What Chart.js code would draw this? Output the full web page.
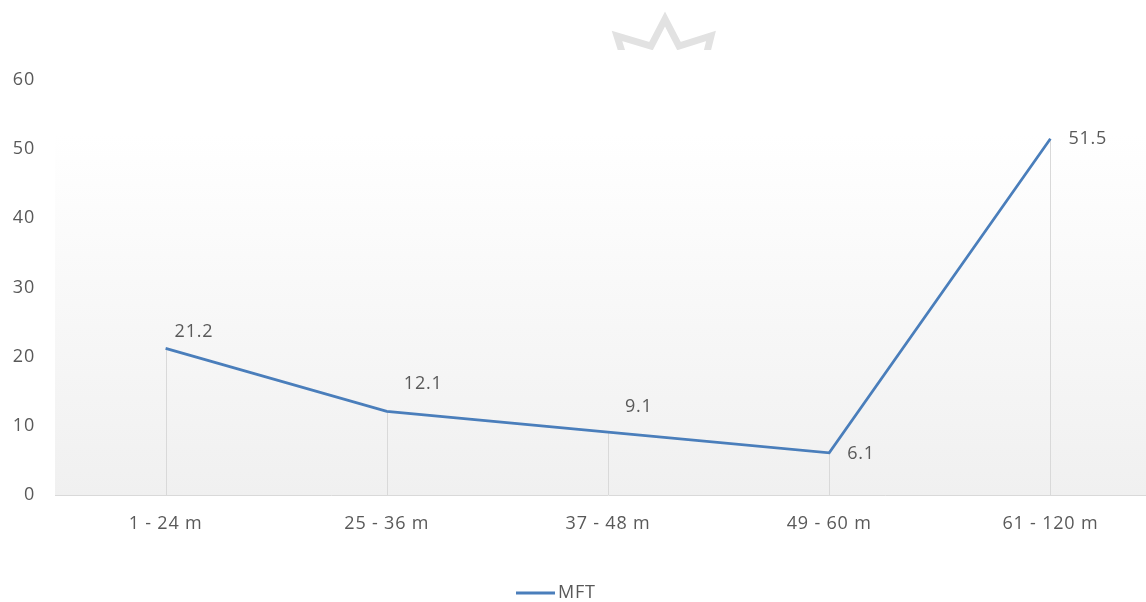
<!DOCTYPE html>
<html lang="en">
<head>
    <meta charset="UTF-8">
    <title>MFT</title>
    <script src="https://cdn.jsdelivr.net/npm/chart.js"></script>
    <style>
        html, body {
            margin: 0;
            padding: 0;
            background: #ffffff;
            overflow: hidden;
        }
        .chart-container {
            position: relative;
            width: 1161px;
            height: 602px;
        }
    </style>
</head>
<body>
    <div class="chart-container">
        <canvas id="mftChart"></canvas>
    </div>

    <script>
        const categories = ['1 - 24 m', '25 - 36 m', '37 - 48 m', '49 - 60 m', '61 - 120 m'];
        const mftValues = [21.2, 12.1, 9.1, 6.1, 51.5];
        const yTicks = [0, 10, 20, 30, 40, 50, 60];

        const textColor = '#595959';
        const lineColor = '#4a7ebb';
        const fontFamily = "'Open Sans', sans-serif";
        const fontSize = 18;

        // label offsets relative to each point (dx, dy)
        const labelOffsets = [[9, -16], [17, -27], [17, -25], [18, 1], [18, 0]];

        const decorPlugin = {
            id: 'decor',
            beforeDraw(chart) {
                const ctx = chart.ctx;
                const area = chart.chartArea;
                // wider tracking for every text drawn afterwards
                ctx.letterSpacing = '0.8px';
                ctx.save();
                // soft grey fade behind the plot
                const g = ctx.createLinearGradient(0, 135, 0, area.bottom);
                g.addColorStop(0, '#ffffff');
                g.addColorStop(1, '#f0f0f0');
                ctx.fillStyle = g;
                ctx.fillRect(area.left, 135, area.right - area.left, area.bottom - 135);

                // crown mark at the top
                ctx.strokeStyle = '#e2e2e2';
                ctx.lineWidth = 7;
                ctx.lineJoin = 'miter';
                ctx.beginPath();
                ctx.moveTo(622, 52);
                ctx.lineTo(617, 36);
                ctx.lineTo(651, 46);
                ctx.lineTo(665, 19);
                ctx.lineTo(679, 46);
                ctx.lineTo(711, 36);
                ctx.lineTo(707, 52);
                ctx.stroke();
                ctx.clearRect(600, 50, 130, 12);
                ctx.restore();
            },
            beforeDatasetsDraw(chart) {
                const ctx = chart.ctx;
                const meta = chart.getDatasetMeta(0);
                const base = chart.scales.y.getPixelForValue(0);
                ctx.save();
                ctx.strokeStyle = '#d9d9d9';
                ctx.lineWidth = 1;
                meta.data.forEach(pt => {
                    const x = Math.round(pt.x) + 0.5;
                    ctx.beginPath();
                    ctx.moveTo(x, pt.y);
                    ctx.lineTo(x, base);
                    ctx.stroke();
                });
                ctx.restore();
            },
            afterDraw(chart) {
                const ctx = chart.ctx;
                const meta = chart.getDatasetMeta(0);
                ctx.save();
                ctx.font = fontSize + 'px ' + fontFamily;
                ctx.fillStyle = textColor;
                ctx.textBaseline = 'middle';
                ctx.textAlign = 'left';
                meta.data.forEach((pt, i) => {
                    const off = labelOffsets[i];
                    ctx.fillText(String(mftValues[i]), pt.x + off[0], pt.y + off[1]);
                });

                // legend
                ctx.strokeStyle = lineColor;
                ctx.lineWidth = 3;
                ctx.beginPath();
                ctx.moveTo(516, 593);
                ctx.lineTo(555, 593);
                ctx.stroke();
                ctx.fillText('MFT', 558, 593);
                ctx.restore();
            }
        };

        new Chart(document.getElementById('mftChart'), {
            type: 'line',
            data: {
                labels: categories,
                datasets: [{
                    label: 'MFT',
                    data: mftValues,
                    borderColor: lineColor,
                    borderWidth: 2.75,
                    pointRadius: 0,
                    tension: 0,
                    fill: false
                }]
            },
            options: {
                responsive: true,
                maintainAspectRatio: false,
                animation: false,
                layout: {
                    padding: { top: 80, right: 0, bottom: 0, left: 0 }
                },
                plugins: {
                    legend: { display: false },
                    tooltip: { enabled: false }
                },
                scales: {
                    x: {
                        offset: true,
                        grid: { display: false, drawTicks: false },
                        border: { display: true, color: '#d9d9d9', width: 1 },
                        ticks: {
                            color: textColor,
                            padding: 18,
                            maxRotation: 0,
                            font: { family: fontFamily, size: fontSize }
                        },
                        afterFit: s => { s.height = 107; }
                    },
                    y: {
                        min: 0,
                        max: 60,
                        afterBuildTicks: s => { s.ticks = yTicks.map(v => ({ value: v })); },
                        grid: { display: false, drawTicks: false },
                        border: { display: false },
                        ticks: {
                            color: textColor,
                            padding: 20,
                            font: { family: fontFamily, size: fontSize }
                        },
                        afterFit: s => { s.width = 55; }
                    }
                }
            },
            plugins: [decorPlugin]
        });
    </script>
</body>
</html>
